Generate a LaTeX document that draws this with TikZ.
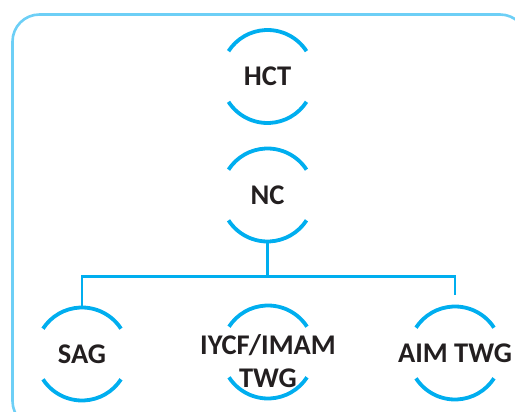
\documentclass[tikz,border=0pt]{standalone}
\usepackage{fontspec}
\setmainfont{Carlito}
\definecolor{ringblue}{HTML}{00AEEF}
\definecolor{frameblue}{HTML}{6DCFF6}
\definecolor{ink}{HTML}{231F20}
\begin{document}
\begin{tikzpicture}[x=1pt, y=-1pt,
    unit/.style={circle, minimum size=93pt, inner sep=0pt, outer sep=0pt,
      font=\fontsize{28.5}{33}\selectfont\bfseries, text=ink, align=center},
    ring/.style={ringblue, line width=3.8pt},
    link/.style={ringblue, line width=2.6pt}]
          \useasboundingbox (0,0) rectangle (515,412);
          \draw[frameblue, line width=2.6pt, rounded corners=27pt] (12.5,14.5) rectangle (527,428); % frame
          \node[unit] (hct) at (267.5,76.5) {HCT};
          \node[unit] (nc) at (267.5,195) {NC};
          \node[unit] (sag) at (82,354) {SAG};
          \node[unit] (iycf) at (268,361) {IYCF/IMAM\\TWG}; % text sits low in its ring
          \coordinate (iycfring) at (268,352);
          \node[unit] (aim) at (455,353) {AIM TWG};
          \foreach \n in {hct,nc,sag,iycfring,aim} {
            \draw[ring] (\n.center) ++(33:46.5pt) arc[start angle=33, end angle=147, radius=46.5pt];
            \draw[ring] (\n.center) ++(213:46.5pt) arc[start angle=213, end angle=327, radius=46.5pt];
          }
          \draw[link] (nc.south) -- ++(0,35) coordinate (split);
          \draw[link] (split) -| (sag.north);
          \draw[link] (split) -| (aim.north);
        \end{tikzpicture}
\end{document}
